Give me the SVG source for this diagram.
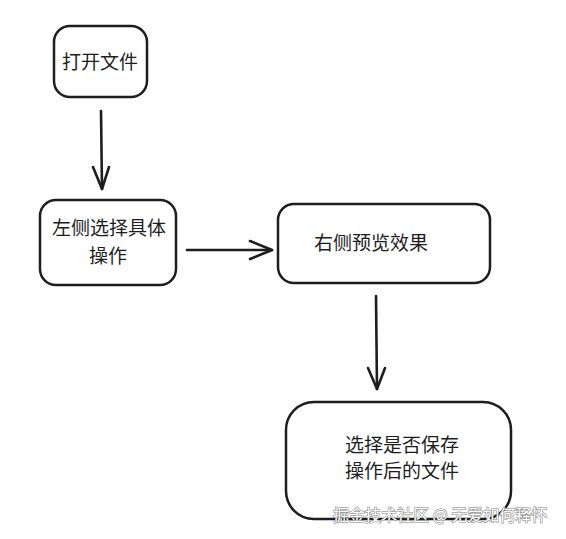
<svg xmlns="http://www.w3.org/2000/svg" width="566" height="539" viewBox="0 0 566 539">
<style>
.box{fill:#fff;stroke:#1e1e1e;stroke-width:2.5;}
.t{font-family:"Noto Sans CJK SC","Noto Sans",sans-serif;font-size:19px;fill:#1e1e1e;text-anchor:middle;}
.c{stroke:#1e1e1e;stroke-width:2.6;fill:none;stroke-linecap:round;stroke-linejoin:round;}
.wm{font-family:"Noto Sans CJK SC","Noto Sans",sans-serif;font-size:16px;fill:#fff;stroke:#7a7a7a;stroke-width:1;paint-order:stroke;}
</style>
<rect width="566" height="539" fill="#fff"/>
<g id="n1"><rect class="box" x="54" y="26" width="93" height="71" rx="16"/><text class="t" x="100" y="69">打开文件</text></g>
<g id="n2"><rect class="box" x="40" y="200" width="136" height="85" rx="16"/><text class="t" x="109" y="235">左侧选择具体</text><text class="t" x="108" y="263">操作</text></g>
<g id="n3"><rect class="box" x="278" y="204" width="212" height="79" rx="16"/><text class="t" x="371" y="250">右侧预览效果</text></g>
<g id="n4"><rect class="box" x="286" y="402" width="225" height="117" rx="28"/><text class="t" x="402" y="452">选择是否保存</text><text class="t" x="402" y="478">操作后的文件</text></g>
<g id="connectors">
<path class="c" d="M101 111 L102 189"/><path class="c" d="M93 167 L102 189 L109 167"/>
<path class="c" d="M187 250 L272 250"/><path class="c" d="M250 241 L272 250 L250 259"/>
<path class="c" d="M376 296 L377 389"/><path class="c" d="M368 368 L377 389 L385 368"/>
</g>
<text class="wm" x="333" y="521">掘金技术社区 @ 无爱如何释怀</text>
</svg>
